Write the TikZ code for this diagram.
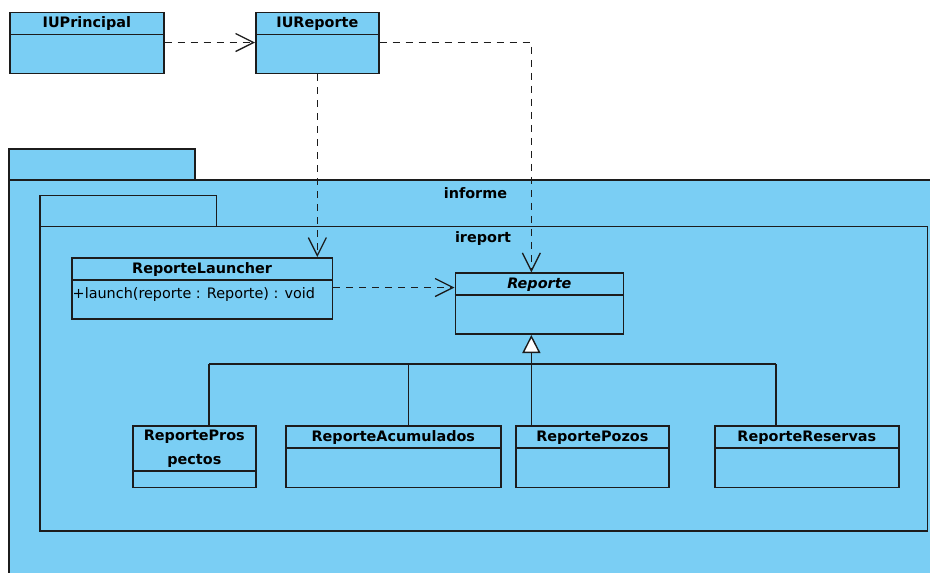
\documentclass[tikz,border=0pt]{standalone}
\usepackage{fontspec}
\setmainfont{DejaVu Sans}
\usetikzlibrary{arrows.meta}
\definecolor{umlfill}{RGB}{122,206,244}
\definecolor{umlline}{RGB}{28,28,28}
\begin{document}
\begin{tikzpicture}[x=1pt,y=-1pt,
  box/.style={draw=umlline, fill=umlfill, line width=1.7pt, inner sep=0pt, anchor=north west},
  pkg/.style={draw=umlline, fill=umlfill, line width=1.7pt},
  title/.style={font=\fontsize{14.4}{17}\selectfont\bfseries, inner sep=0pt},
  op/.style={font=\fontsize{14.4}{17}\selectfont, inner sep=0pt, anchor=west},
  divider/.style={draw=umlline, line width=1.7pt},
  dep/.style={draw=umlline, line width=1.3pt, dash pattern=on 7pt off 6pt,
    -{Straight Barb[length=18pt,width=18pt,line width=1.3pt]}},
  gen/.style={draw=umlline, line width=1.6pt,
    -{Triangle[open, fill=white, length=18pt, width=18pt, line width=1.4pt]}},
  branch/.style={draw=umlline, line width=1.6pt},
]
\useasboundingbox (0,0) rectangle (930,573);
\fill[white] (0,0) rectangle (930,573);

% packages informe and ireport
\begin{scope}
  \clip (0,0) rectangle (930,573);
  \draw[pkg] (9,149) rectangle (195,180);
  \draw[pkg] (9,180) rectangle (950,600);
  \node[title] (informe) at (475.5,193) {informe};
  \draw[pkg] (40,195.5) rectangle (216.5,226.5);
  \draw[pkg] (40,226.5) rectangle (927.5,531);
  \node[title] (ireport) at (483,239) {ireport};
\end{scope}

% classes
\node[box, minimum width=154pt, minimum height=61pt] (iup) at (9,11.5) {};
\draw[divider] ([yshift=-23pt]iup.north west) -- ([yshift=-23pt]iup.north east);
\node[title] (iupT) at ([yshift=-12.5pt]iup.north) {IUPrincipal};

\node[box, minimum width=123pt, minimum height=61pt] (iur) at (255,11.5) {};
\draw[divider] ([yshift=-23pt]iur.north west) -- ([yshift=-23pt]iur.north east);
\node[title] (iurT) at ([yshift=-12.5pt]iur.north) {IUReporte};

\node[box, minimum width=260.5pt, minimum height=61pt] (launcher) at (71,257) {};
\draw[divider] ([yshift=-23pt]launcher.north west) -- ([yshift=-23pt]launcher.north east);
\node[title] (launcherT) at ([yshift=-12.5pt]launcher.north) {ReporteLauncher};
\node[op] (launcherOp) at ([xshift=1.5pt,yshift=-38pt]launcher.north west) {+launch(reporte : Reporte) : void};

\node[box, minimum width=168pt, minimum height=61pt] (reporte) at (454.5,272.3) {};
\draw[divider] ([yshift=-22.5pt]reporte.north west) -- ([yshift=-22.5pt]reporte.north east);
\node[title, font=\fontsize{14.4}{17}\selectfont\bfseries\itshape] (reporteT) at ([yshift=-12pt]reporte.north) {Reporte};

\node[box, minimum width=123pt, minimum height=61.5pt] (pros) at (132,425) {};
\draw[divider] ([yshift=-46pt]pros.north west) -- ([yshift=-46pt]pros.north east);
\node[title, align=center, font=\fontsize{14.4}{24}\selectfont\bfseries] (prosT) at ([yshift=-24pt]pros.north) {ReportePros\\pectos};

\node[box, minimum width=215pt, minimum height=61.5pt] (acum) at (285,425) {};
\draw[divider] ([yshift=-23pt]acum.north west) -- ([yshift=-23pt]acum.north east);
\node[title] (acumT) at ([yshift=-12.5pt]acum.north) {ReporteAcumulados};

\node[box, minimum width=153pt, minimum height=61.5pt] (pozos) at (515,425) {};
\draw[divider] ([yshift=-23pt]pozos.north west) -- ([yshift=-23pt]pozos.north east);
\node[title] (pozosT) at ([yshift=-12.5pt]pozos.north) {ReportePozos};

\node[box, minimum width=184pt, minimum height=61.5pt] (reserv) at (714,425) {};
\draw[divider] ([yshift=-23pt]reserv.north west) -- ([yshift=-23pt]reserv.north east);
\node[title] (reservT) at ([yshift=-12.5pt]reserv.north) {ReporteReservas};

% dependencies
\coordinate (pr) at ([yshift=-31pt]iup.north east);
\draw[dep] (pr) -- (pr -| iur.west);
\coordinate (rr) at ([yshift=-31pt]iur.north east);
\coordinate (rtop) at ([xshift=-8pt]reporte.north);
\draw[dep] (rr) -| (rtop);
\draw[dep] (iur.south) -- (iur.south |- launcher.north);
\coordinate (lr) at ([yshift=-30.5pt]launcher.north east);
\draw[dep] (lr) -- (lr -| reporte.west);

% generalization tree
\coordinate (rbot) at ([xshift=-8pt]reporte.south);
\draw[gen] (rbot |- pozos.north) -- (rbot);
\coordinate (busL) at (209,364);
\coordinate (busA) at (408.3,364);
\coordinate (busR) at (776,364);
\draw[branch] (busL) -- (busR);
\draw[branch] (busL) -- (busL |- pros.north);
\draw[branch] (busA) -- (busA |- acum.north);
\draw[branch] (busR) -- (busR |- reserv.north);
\end{tikzpicture}
\end{document}
